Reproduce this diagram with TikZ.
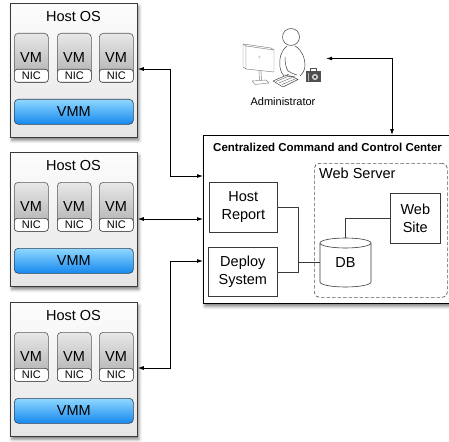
\documentclass[tikz,border=0pt]{standalone}
\usepackage{fontspec}
\setmainfont{Liberation Sans}
\usetikzlibrary{arrows.meta,calc,shadows.blur}

\definecolor{frame}{HTML}{3A3A3A}
\definecolor{vmline}{HTML}{5A5A5A}
\definecolor{vmtop}{HTML}{E8E8E8}
\definecolor{vmbot}{HTML}{ABABAB}
\definecolor{vmmtop}{HTML}{8FD8FF}
\definecolor{vmmbot}{HTML}{1688EE}
\definecolor{vmmline}{HTML}{2F4256}
\definecolor{bag}{HTML}{505050}

\tikzset{
  softshadow/.style={blur shadow={shadow xshift=1.5pt, shadow yshift=-3pt,
      shadow blur radius=3pt, shadow opacity=50}},
  hostbox/.style={draw=frame, line width=0.8pt, top color=gray!2, bottom color=gray!20,
      softshadow, minimum width=127pt, minimum height=134pt, anchor=north west, inner sep=0pt},
  hosttitle/.style={font=\fontsize{14.5}{16}\selectfont, inner sep=0pt},
  vmbox/.style={draw=vmline, line width=0.6pt, rounded corners=4pt, top color=vmtop,
      bottom color=vmbot, minimum width=34pt, minimum height=49pt, anchor=north west, inner sep=0pt},
  vmtext/.style={font=\fontsize{14.5}{16}\selectfont, inner sep=0pt},
  nicbox/.style={draw=frame, line width=0.6pt, fill=white, rounded corners=3pt,
      minimum width=34pt, minimum height=13pt, anchor=north west, inner sep=0pt,
      font=\fontsize{11}{12}\selectfont},
  vmmbox/.style={draw=vmmline, line width=0.6pt, rounded corners=4pt, top color=vmmtop,
      bottom color=vmmbot, minimum width=119pt, minimum height=25pt, anchor=north west,
      inner sep=0pt, font=\fontsize{14.5}{16}\selectfont},
  ccbox/.style={draw=black, line width=0.8pt, fill=white, softshadow,
      minimum width=252pt, minimum height=168pt, anchor=north west, inner sep=0pt},
  plainbox/.style={draw=frame, line width=0.6pt, fill=white, anchor=north west,
      align=center, inner sep=0pt, font=\fontsize{14.5}{18}\selectfont},
  webserver/.style={draw=black!65, line width=0.7pt, dash pattern=on 3.5pt off 2pt,
      rounded corners=5pt, anchor=north west, minimum width=133pt, minimum height=134pt,
      inner sep=0pt},
  link/.style={line width=0.8pt, {Latex[length=6pt,width=4pt]}-{Latex[length=6pt,width=4pt]}},
  wire/.style={line width=0.6pt, draw=frame},
  icon/.style={line width=0.5pt, draw=black!75, line join=round, line cap=round},
  screen/.style={line width=0.45pt, draw=black!50, line join=round}
}

% One physical host: frame, title, three VMs with NICs, and the VMM bar
\newcommand\hostblock[2]{%
  \node[hostbox] (#1) at (10,#2) {};
  \node[hosttitle] (#1-title) at (73.5,#2+14) {Host OS};
  \node[vmbox] (#1-vm1) at (14,#2+30) {};
  \node[vmbox] (#1-vm2) at (57,#2+30) {};
  \node[vmbox] (#1-vm3) at (99,#2+30) {};
  \node[vmtext] (#1-vm1l) at (31,#2+55) {VM};
  \node[vmtext] (#1-vm2l) at (74,#2+55) {VM};
  \node[vmtext] (#1-vm3l) at (116,#2+55) {VM};
  \node[nicbox] (#1-nic1) at (14,#2+66) {NIC};
  \node[nicbox] (#1-nic2) at (57,#2+66) {NIC};
  \node[nicbox] (#1-nic3) at (99,#2+66) {NIC};
  \node[vmmbox] (#1-vmm) at (14,#2+96) {VMM};
}

\begin{document}
\begin{tikzpicture}[x=1pt, y=-1pt]
  \useasboundingbox (0,0) rectangle (449,441);

  % Hosts
  \hostblock{h1}{3}
  \hostblock{h2}{152}
  \hostblock{h3}{302}

  % Command and control center
  \node[ccbox] (cc) at (203,135) {};
  \node[anchor=west, inner sep=0pt, font=\bfseries\fontsize{11.5}{13}\selectfont]
    (cctitle) at (213,147) {Centralized Command and Control Center};
  \node[webserver] (ws) at (314,163) {};
  \node[anchor=west, inner sep=0pt, font=\fontsize{14.5}{16}\selectfont]
    (wstitle) at (319,173.5) {Web Server};
  \node[plainbox, minimum width=68pt, minimum height=50pt] (hr) at (209,182) {Host\\Report};
  \node[plainbox, minimum width=69pt, minimum height=49pt] (ds) at (208,247) {Deploy\\System};
  \node[plainbox, minimum width=50pt, minimum height=50pt] (site) at (390,193) {Web\\Site};

  % Database cylinder
  \draw[wire, fill=white] (320,243) -- (320,282)
    arc[start angle=180, end angle=360, x radius=25.5pt, y radius=5pt] -- (371,243);
  \draw[wire] (345.5,243) ellipse[x radius=25.5pt, y radius=5pt];
  \node[minimum width=51pt, minimum height=49pt, inner sep=0pt,
        font=\fontsize{14.5}{16}\selectfont] (db) at (345.5,262.5) {\raisebox{-2pt}{DB}};

  % Wiring inside the center
  \coordinate (bus) at ($(hr.east)+(21,0)$);
  \draw[wire] (hr.east) -- (bus) |- (ds.east);
  \draw[wire] (db.west) -- (db.west -| bus);
  \draw[wire] (db.north) |- (site.west);

  % Administrator figure
  \node[minimum width=84pt, minimum height=63pt, inner sep=0pt] (admin) at (284,58.5) {};
  % monitor
  \draw[screen, fill=white] (243,44) -- (246,46) -- (246,69) -- (243,67) -- cycle;
  \draw[screen, fill=white] (246,46) -- (274,50) -- (274,72) -- (246,69) -- cycle;
  \draw[screen] (243,44) -- (271,48) -- (274,50);
  \fill[gray!40] (259.5,57) ellipse[x radius=1.1pt, y radius=1.6pt];
  \draw[screen] (259,70.5) -- (259.5,80.5);
  \draw[screen] (261,70.7) -- (261.5,80.5);
  \draw[screen, fill=white] (252,81) -- (266,80) -- (269,83) -- (255,84.5) -- cycle;
  \begin{scope}[icon]
    % person
    \draw[fill=white] (291,37) circle[radius=8.5pt];
    \draw (287,46) .. controls (281,51) and (279,58) .. (280,67)
      .. controls (281,72) and (282,74) .. (284,76);
    \draw (295,46) .. controls (302,50) and (305,58) .. (305,65)
      .. controls (305,70) and (303,73) .. (300,76);
    \draw (285,57) .. controls (285,63) and (286,68) .. (288,71)
      .. controls (291,73) and (294,74) .. (297,75);
    % keyboard
    \draw[fill=white] (273,81) -- (288,74.5) -- (298,79.5) -- (283,87) -- cycle;
    \draw[line width=0.3pt] (276,81.5) -- (289,76);
    \draw[line width=0.3pt] (279,83) -- (292,77.5);
    \draw[line width=0.3pt] (282,84.5) -- (295,79);
    \draw[fill=white] (286,75) .. controls (289,77) and (292,77) .. (295,76);
    % camera bag
    \draw[line width=0.7pt, draw=bag] (310,71) -- (310,68.5) -- (316,68.5) -- (316,71);
    \fill[bag] (306,71) rectangle (321,82.5);
    \fill[gray!25] (315,77) circle[radius=3pt];
    \fill[bag!80!black] (315,77) circle[radius=1.6pt];
    \fill[gray!60] (307.5,73) rectangle (309,81);
  \end{scope}
  \node[font=\fontsize{11}{12}\selectfont, inner sep=0pt] (adminlabel) at (283,102) {Administrator};

  % Connection points on hosts and center
  \coordinate (h1p) at ($(h1.north east)+(0,66)$);
  \coordinate (h2p) at ($(h2.north east)+(0,67)$);
  \coordinate (h3p) at ($(h3.north east)+(0,66)$);
  \coordinate (c1) at ($(cc.north west)+(0,41)$);
  \coordinate (c2) at ($(h2p -| cc.west)$);
  \coordinate (c3) at ($(cc.north west)+(0,126)$);

  \draw[link] (h1p) -- ++(33,0) |- (c1);
  \draw[link] (h2p) -- (c2);
  \draw[link] (h3p) -- ++(33,0) |- (c3);
  \draw[link] (admin.east) -| ($(cc.north west)+(189,0)$);
\end{tikzpicture}
\end{document}
